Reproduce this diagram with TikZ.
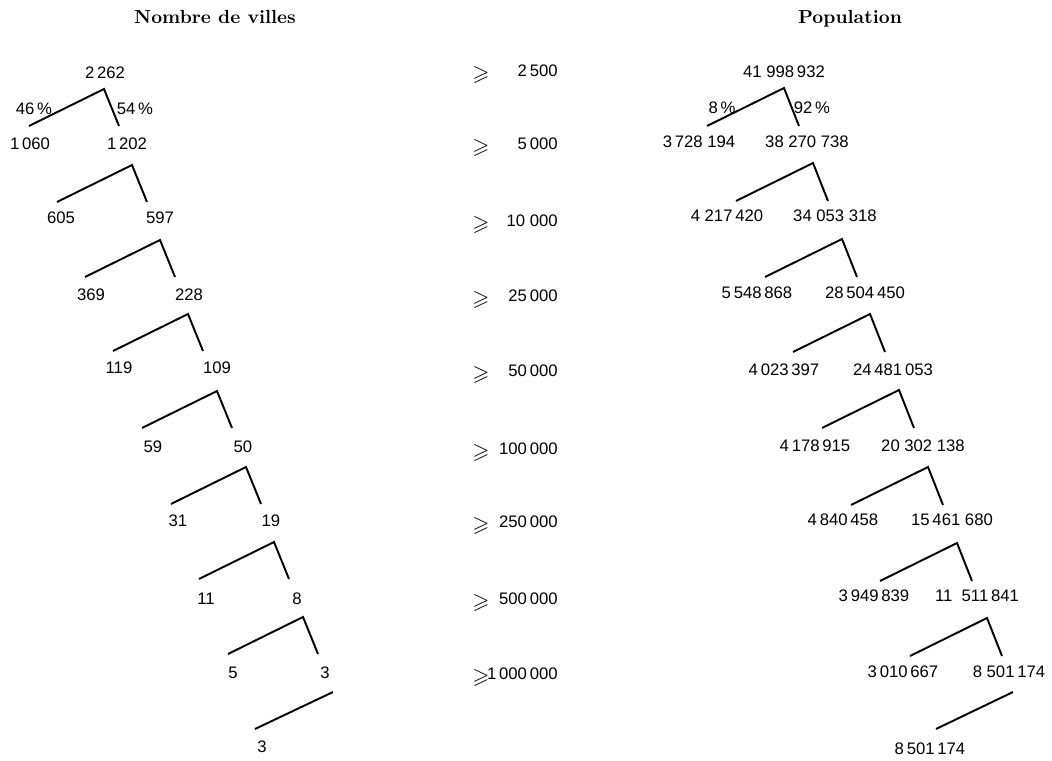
\documentclass[tikz,border=0pt]{standalone}
\usepackage{amssymb}
\usepackage{fontspec}
\newfontfamily\chiffres{Liberation Sans}

\begin{document}
\begin{tikzpicture}[
  x=0.02cm, y=-0.02cm,
  ttl/.style={font=\fontsize{10.8}{13}\selectfont\bfseries, anchor=base, inner sep=0pt},
  num/.style={font=\chiffres\fontsize{9.5}{11}\selectfont, inner sep=0pt},
  seuil/.style={num, anchor=east},
  geq/.style={font=\fontsize{12.5}{14}\selectfont, inner sep=0pt},
  branch/.style={line width=1.1pt, black}
]
  \useasboundingbox (0,0) rectangle (1052,761);

  %% ── Titles ────────────────────────────────────────────────────────────────
  \node[ttl] (tv) at (215,23) {Nombre de villes};
  \node[ttl] (tp) at (850,23) {Population};

  %% ── Nombre de villes ──────────────────────────────────────────────────────
  \node[num] (v0)  at (105,73)  {2\,262};
  \node[num] (v0l) at (34,109)  {46\,\%};
  \node[num] (v0r) at (135,109) {54\,\%};
  \node[num] (v1l) at (30,144)  {1\,060};
  \node[num] (v1r) at (127,144) {1\,202};
  \node[num] (v2l) at (61,218)  {605};
  \node[num] (v2r) at (160,218) {597};
  \node[num] (v3l) at (91,295)  {369};
  \node[num] (v3r) at (189,295) {228};
  \node[num] (v4l) at (119,368) {119};
  \node[num] (v4r) at (217,368) {109};
  \node[num] (v5l) at (153,447) {59};
  \node[num] (v5r) at (243,447) {50};
  \node[num] (v6l) at (178,521) {31};
  \node[num] (v6r) at (271,521) {19};
  \node[num] (v7l) at (206,599) {11};
  \node[num] (v7r) at (297,599) {8};
  \node[num] (v8l) at (233,673) {5};
  \node[num] (v8r) at (325,673) {3};
  \node[num] (v9l) at (262,747) {3};

  %% ── Seuils ────────────────────────────────────────────────────────────────
  \node[geq] (g0) at (481,75)  {$\geqslant$};
  \node[geq] (g1) at (481,148) {$\geqslant$};
  \node[geq] (g2) at (481,225) {$\geqslant$};
  \node[geq] (g3) at (481,300) {$\geqslant$};
  \node[geq] (g4) at (481,375) {$\geqslant$};
  \node[geq] (g5) at (481,453) {$\geqslant$};
  \node[geq] (g6) at (481,526) {$\geqslant$};
  \node[geq] (g7) at (481,603) {$\geqslant$};
  \node[geq] (g8) at (481,678) {$\geqslant$};
  \node[seuil] (s0) at (558,71)  {2\,500};
  \node[seuil] (s1) at (558,144) {5\,000};
  \node[seuil] (s2) at (558,221) {10\ 000};
  \node[seuil] (s3) at (558,296) {25\,000};
  \node[seuil] (s4) at (558,371) {50\,000};
  \node[seuil] (s5) at (558,449) {100\,000};
  \node[seuil] (s6) at (558,522) {250\,000};
  \node[seuil] (s7) at (558,599) {500\,000};
  \node[seuil] (s8) at (558,674) {1\,000\,000};

  %% ── Population ────────────────────────────────────────────────────────────
  \node[num] (p0)  at (784,72)  {41\ 998\,932};
  \node[num] (p0l) at (722,108) {8\,\%};
  \node[num] (p0r) at (812,108) {92\,\%};
  \node[num] (p1l) at (699,142) {3\,728\ 194};
  \node[num] (p1r) at (807,142) {38\ 270\ 738};
  \node[num] (p2l) at (727,216) {4\ 217\,420};
  \node[num] (p2r) at (835,216) {34\ 053\ 318};
  \node[num] (p3l) at (757,293) {5\,548\,868};
  \node[num] (p3r) at (865,293) {28\,504\,450};
  \node[num] (p4l) at (784,370) {4\,023\,397};
  \node[num] (p4r) at (893,370) {24\,481\,053};
  \node[num] (p5l) at (815,446) {4\,178\,915};
  \node[num] (p5r) at (923,446) {20\ 302\ 138};
  \node[num] (p6l) at (843,520) {4\,840\,458};
  \node[num] (p6r) at (952,520) {15\,461\ 680};
  \node[num] (p7l) at (874,596) {3\,949\,839};
  \node[num] (p7r) at (977,596) {11\ \ 511\,841};
  \node[num] (p8l) at (903,672) {3\,010\,667};
  \node[num] (p8r) at (1009,672) {8\ 501\,174};
  \node[num] (p9l) at (930,749) {8\,501\,174};

  %% ── Branches ──────────────────────────────────────────────────────────────
  % Nombre de villes: apex below each parent, left branch long, right short
  \coordinate (va0) at (104,89);
  \coordinate (va1) at (132,165);
  \coordinate (va2) at (160,240);
  \coordinate (va3) at (188,314);
  \coordinate (va4) at (217,391);
  \coordinate (va5) at (246,467);
  \coordinate (va6) at (274,542);
  \coordinate (va7) at (303,617);
  \coordinate (va8) at (333,692);
  \draw[branch] (va0) ++(-75,37) -- (va0) -- ++(15,37);
  \draw[branch] (va1) ++(-75,37) -- (va1) -- ++(15,37);
  \draw[branch] (va2) ++(-75,37) -- (va2) -- ++(15,37);
  \draw[branch] (va3) ++(-75,37) -- (va3) -- ++(15,37);
  \draw[branch] (va4) ++(-75,37) -- (va4) -- ++(15,37);
  \draw[branch] (va5) ++(-75,37) -- (va5) -- ++(15,37);
  \draw[branch] (va6) ++(-75,37) -- (va6) -- ++(15,37);
  \draw[branch] (va7) ++(-75,37) -- (va7) -- ++(15,37);
  % last step: only the left branch
  \draw[branch] (va8) -- ++(-78,37);

  % Population
  \coordinate (pa0) at (784,88);
  \coordinate (pa1) at (813,163);
  \coordinate (pa2) at (842,239);
  \coordinate (pa3) at (870,314);
  \coordinate (pa4) at (899,390);
  \coordinate (pa5) at (928,467);
  \coordinate (pa6) at (957,543);
  \coordinate (pa7) at (987,618);
  \coordinate (pa8) at (1013,692);
  \draw[branch] (pa0) ++(-77,38) -- (pa0) -- ++(15,38);
  \draw[branch] (pa1) ++(-77,38) -- (pa1) -- ++(15,38);
  \draw[branch] (pa2) ++(-77,38) -- (pa2) -- ++(15,38);
  \draw[branch] (pa3) ++(-77,38) -- (pa3) -- ++(15,38);
  \draw[branch] (pa4) ++(-77,38) -- (pa4) -- ++(15,38);
  \draw[branch] (pa5) ++(-77,38) -- (pa5) -- ++(15,38);
  \draw[branch] (pa6) ++(-77,38) -- (pa6) -- ++(15,38);
  \draw[branch] (pa7) ++(-77,38) -- (pa7) -- ++(15,38);
  \draw[branch] (pa8) -- ++(-77,37);
\end{tikzpicture}
\end{document}
